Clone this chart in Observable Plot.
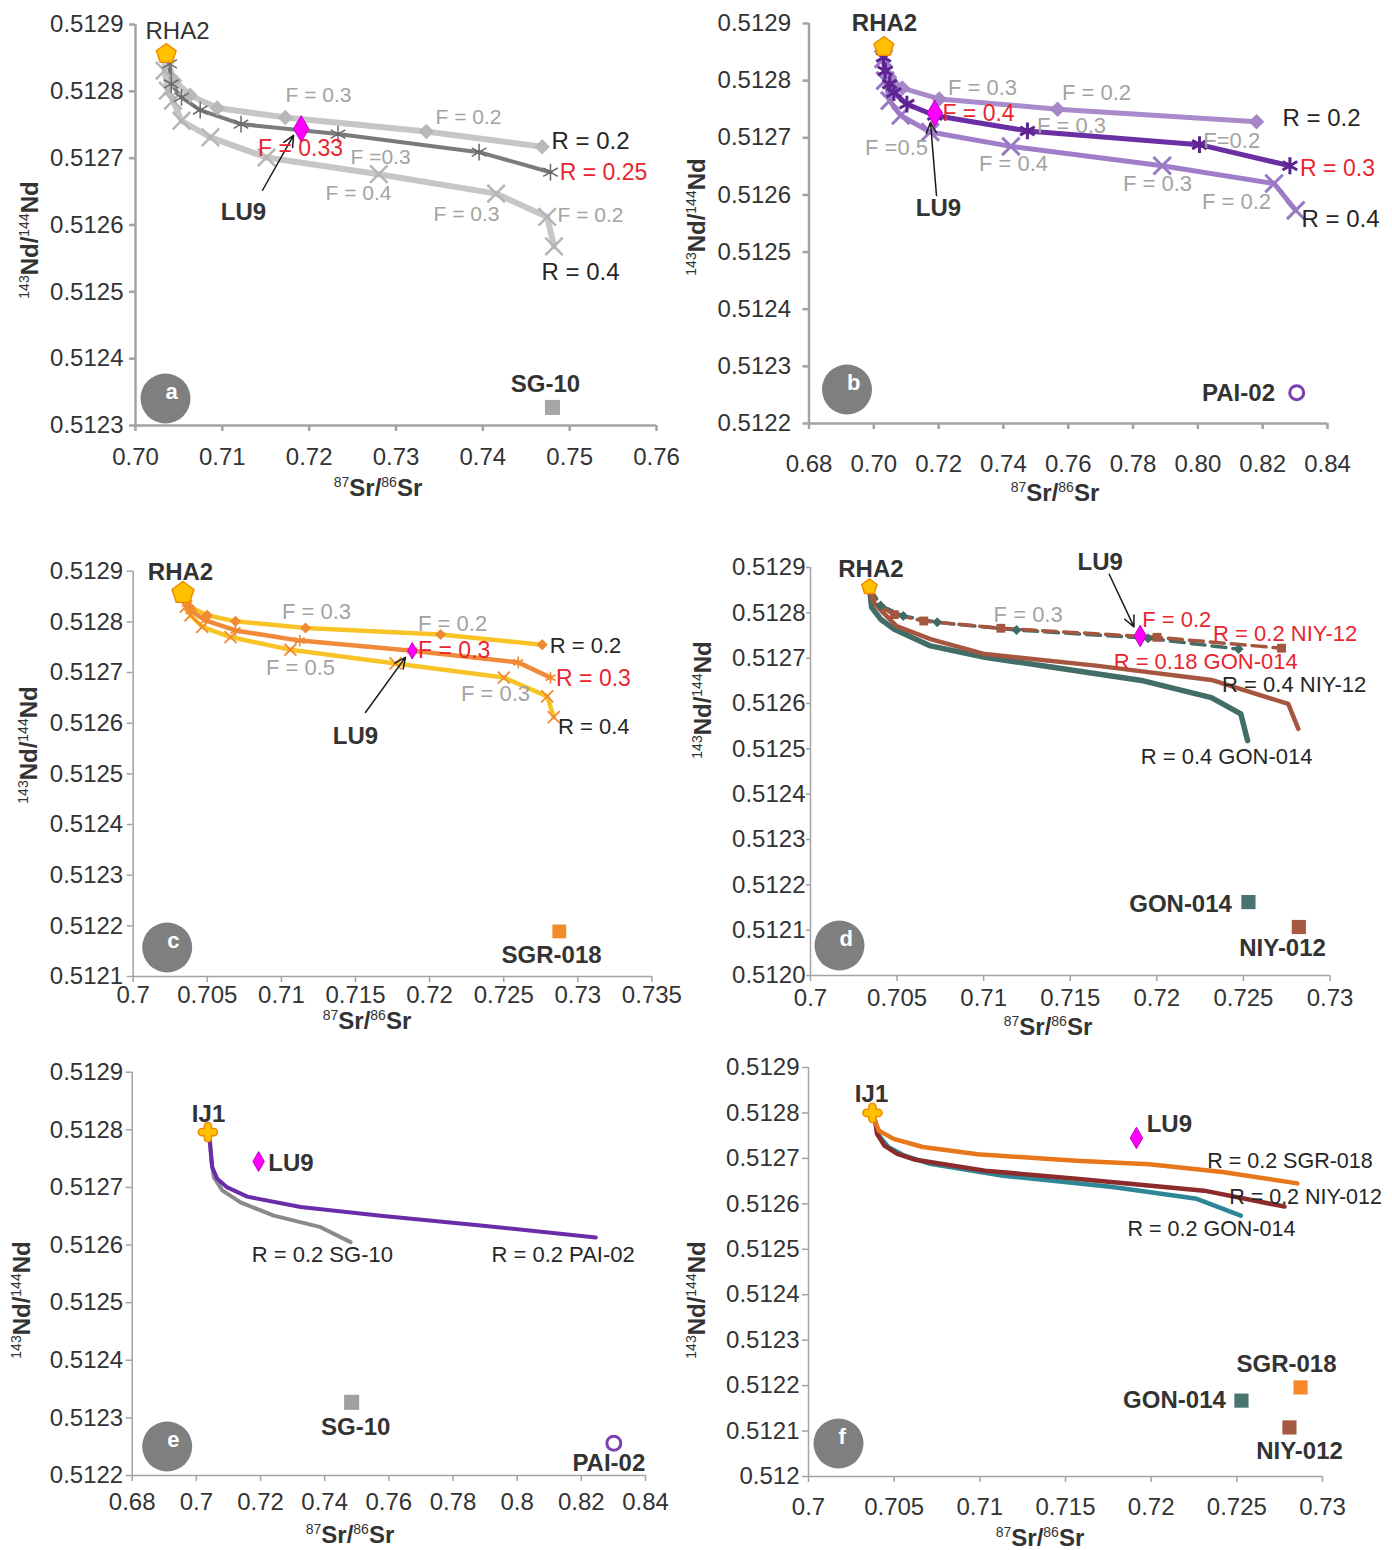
<!DOCTYPE html>
<html><head><meta charset="utf-8">
<script src="https://cdn.jsdelivr.net/npm/d3@7"></script>
<script src="https://cdn.jsdelivr.net/npm/@observablehq/plot@0.6"></script>
<style>
html,body{margin:0;padding:0;background:#fff;overflow:hidden;}
#root{position:relative;width:1392px;height:1550px;font-family:"Liberation Sans",Arial,Helvetica,sans-serif;}
.panel{position:absolute;}
</style></head>
<body><div id="root"></div>
<script>
// ---------------- DATA ----------------
// Panel a
const aRHA2 = [0.70354, 0.512856];
const aR02 = [[0.70354,0.512856],[0.70373,0.512841],[0.70451,0.512816],[0.70628,0.512794],[0.70941,0.512775],[0.71725,0.512761],[0.7335,0.51274],[0.74683,0.512717]];
const aR025 = [[0.70354,0.512856],[0.70393,0.512841],[0.70412,0.512811],[0.7053,0.512791],[0.70745,0.512772],[0.71215,0.512751],[0.72332,0.512736],[0.73957,0.512709],[0.74779,0.512679]];
const aR04 = [[0.70354,0.512856],[0.70334,0.512831],[0.70373,0.512801],[0.70432,0.512786],[0.7053,0.512756],[0.70863,0.512731],[0.71509,0.512701],[0.72802,0.512676],[0.74153,0.512647],[0.74741,0.512612],[0.7482,0.512568]];
const aLU9 = [0.71908, 0.512744];
const aSG10 = [0.74802, 0.512327];
const aArrow = [0.71463, 0.512652, 0.7182, 0.512734];
const aGray = [{t:"F = 0.3",x:0.72108,y:0.512794},{t:"F = 0.2",x:0.73835,y:0.512761},{t:"F =0.3",x:0.72822,y:0.512702},{t:"F = 0.4",x:0.72568,y:0.512647},{t:"F = 0.3",x:0.73812,y:0.512616},{t:"F = 0.2",x:0.7524,y:0.512614}];
const aRed = [{t:"F = 0.33",x:0.719,y:0.512714},{t:"R = 0.25",x:0.7539,y:0.512679}];
const aBlack = [{t:"R = 0.2",x:0.7524,y:0.512725},{t:"R = 0.4",x:0.75125,y:0.512529}];
const aPlain = [{t:"RHA2",x:0.70484,y:0.51289}];
const aBold = [{t:"LU9",x:0.71244,y:0.512619},{t:"SG-10",x:0.74722,y:0.512361}];

// Panel b
const bRHA2 = [0.7031, 0.512859];
const bR02 = [[0.7031,0.512859],[0.7035,0.51283],[0.7049,0.512806],[0.7088,0.512787],[0.7202,0.512768],[0.7567,0.51275],[0.8181,0.512728]];
const bR03 = [[0.7031,0.512859],[0.7030,0.512841],[0.7035,0.512817],[0.7049,0.512794],[0.7062,0.512779],[0.7102,0.512759],[0.7188,0.512739],[0.7474,0.512712],[0.8005,0.512688],[0.8284,0.512651]];
const bR04 = [[0.7031,0.512859],[0.7030,0.512838],[0.7035,0.5128],[0.7049,0.512765],[0.7083,0.512739],[0.7174,0.51271],[0.7423,0.512685],[0.7890,0.512651],[0.8235,0.51262],[0.8302,0.512573]];
const bLU9 = [0.7188, 0.512743];
const bPAI02 = [0.8305, 0.512254];
const bArrow = [0.71934, 0.512599, 0.71749, 0.512727];
const bGray = [{t:"F = 0.3",x:0.73354,y:0.512788},{t:"F = 0.2",x:0.76872,y:0.512779},{t:"F = 0.3",x:0.7610,y:0.512721},{t:"F=0.2",x:0.81044,y:0.512695},{t:"F =0.5",x:0.707,y:0.512683},{t:"F = 0.4",x:0.74311,y:0.512655},{t:"F = 0.3",x:0.78754,y:0.51262},{t:"F = 0.2",x:0.81192,y:0.512587}];
const bRed = [{t:"F = 0.4",x:0.7323,y:0.512742},{t:"R = 0.3",x:0.84309,y:0.512646}];
const bBlack = [{t:"R = 0.2",x:0.83815,y:0.512734},{t:"R = 0.4",x:0.84401,y:0.512557}];
const bBold = [{t:"RHA2",x:0.7033,y:0.5129},{t:"LU9",x:0.71996,y:0.512576},{t:"PAI-02",x:0.81254,y:0.512253}];

// Panel c
const cRHA2 = [0.70336, 0.512857];
const cR02 = [[0.70336,0.512857],[0.7038,0.51283],[0.70499,0.512813],[0.7069,0.512801],[0.71163,0.512788],[0.72074,0.512775],[0.7276,0.512755]];
const cR03 = [[0.70336,0.512857],[0.70364,0.512836],[0.70387,0.512822],[0.70488,0.512803],[0.7069,0.512783],[0.71124,0.512763],[0.71883,0.512743],[0.72598,0.51272],[0.72816,0.51269]];
const cR04 = [[0.70336,0.512857],[0.70355,0.51283],[0.70387,0.512813],[0.70466,0.51279],[0.70657,0.51277],[0.71061,0.512745],[0.7177,0.512718],[0.72501,0.51269],[0.72794,0.512653],[0.72838,0.512612]];
const cLU9 = [0.71883, 0.512743];
const cSGR018 = [0.72875, 0.512189];
const cArrow = [0.71567, 0.512621, 0.71837, 0.51273];
const cGray = [{t:"F = 0.3",x:0.71237,y:0.51282},{t:"F = 0.2",x:0.72155,y:0.512795},{t:"F = 0.5",x:0.71129,y:0.51271},{t:"F = 0.3",x:0.72445,y:0.512657}];
const cRed = [{t:"F = 0.3",x:0.72166,y:0.512743},{t:"R = 0.3",x:0.73106,y:0.512688}];
const cBlack = [{t:"R = 0.2",x:0.73052,y:0.512753},{t:"R = 0.4",x:0.73108,y:0.512593}];
const cBold = [{t:"RHA2",x:0.70319,y:0.512897},{t:"LU9",x:0.715,y:0.512574},{t:"SGR-018",x:0.72823,y:0.512141}];

// Panel d
const dRHA2 = [0.7034, 0.512857];
const dNIYdash = [[0.7034,0.512857],[0.70353,0.512849],[0.70379,0.512819],[0.70484,0.512796],[0.70654,0.512782],[0.71099,0.512766],[0.72001,0.512746],[0.7272,0.512722]];
const dGONdash = [[0.7034,0.512857],[0.70353,0.512849],[0.70405,0.512816],[0.70536,0.512793],[0.70732,0.512779],[0.7119,0.512762],[0.71949,0.512744],[0.72472,0.51272]];
const dNIYsolid = [[0.7034,0.512857],[0.70366,0.512823],[0.70418,0.512801],[0.70497,0.512771],[0.70693,0.512742],[0.71007,0.512709],[0.71661,0.512683],[0.72315,0.512652],[0.72759,0.512599],[0.72817,0.512544]];
const dGONsolid = [[0.7034,0.512857],[0.70353,0.512812],[0.70405,0.512786],[0.70484,0.512764],[0.70693,0.512727],[0.71007,0.512702],[0.71399,0.51268],[0.71922,0.51265],[0.72315,0.512613],[0.72485,0.512577],[0.72524,0.512518]];
const dLU9 = [0.71904, 0.512749];
const dGON014 = [0.72529, 0.512162];
const dNIY012 = [0.7282, 0.512107];
const dArrow = [0.71725, 0.512885, 0.71868, 0.512769];
const dGray = [{t:"F = 0.3",x:0.71257,y:0.512795}];
const dRed = [{t:"F = 0.2",x:0.72115,y:0.512784},{t:"R = 0.2 NIY-12",x:0.72741,y:0.512754},{t:"R = 0.18 GON-014",x:0.72282,y:0.512691}];
const dBlack = [{t:"R = 0.4 NIY-12",x:0.72793,y:0.512642},{t:"R = 0.4 GON-014",x:0.72403,y:0.512481}];
const dBold = [{t:"RHA2",x:0.70349,y:0.512896},{t:"LU9",x:0.71673,y:0.512911},{t:"GON-014",x:0.72137,y:0.512158},{t:"NIY-012",x:0.72726,y:0.512061}];

// Panel e
const eIJ1 = [0.7036, 0.512796];
const eSG10line = [[0.7036,0.512796],[0.7042,0.512781],[0.70464,0.512747],[0.70545,0.512718],[0.70807,0.512695],[0.71378,0.512674],[0.72417,0.512651],[0.73873,0.512631],[0.74808,0.512605]];
const ePAI02line = [[0.7036,0.512796],[0.7042,0.512781],[0.70495,0.512735],[0.70651,0.512715],[0.70963,0.5127],[0.71587,0.512684],[0.7325,0.512666],[0.75745,0.512651],[0.78864,0.512634],[0.82451,0.512613]];
const eLU9 = [0.7194, 0.512745];
const eSG10 = [0.7484, 0.512327];
const ePAI02 = [0.83013, 0.512256];
const eBlack = [{t:"R = 0.2 SG-10",x:0.73926,y:0.512583},{t:"R = 0.2 PAI-02",x:0.81431,y:0.512583}];
const eBold = [{t:"IJ1",x:0.7038,y:0.512827},{t:"LU9",x:0.72947,y:0.512741},{t:"SG-10",x:0.74965,y:0.512283},{t:"PAI-02",x:0.82857,y:0.512222}];

// Panel f
const fIJ1 = [0.70373, 0.5128];
const fSGRline = [[0.70373,0.5128],[0.7039,0.51278],[0.70411,0.512761],[0.70497,0.512743],[0.70667,0.512725],[0.70987,0.512709],[0.71563,0.512695],[0.71989,0.512687],[0.72416,0.51267],[0.72853,0.512645]];
const fNIYline = [[0.70373,0.5128],[0.7039,0.51278],[0.704,0.512754],[0.70443,0.512728],[0.70518,0.51271],[0.70625,0.512697],[0.7103,0.512673],[0.71563,0.512655],[0.72309,0.512629],[0.72778,0.512594]];
const fGONline = [[0.70373,0.5128],[0.7039,0.51278],[0.70411,0.51275],[0.70465,0.512725],[0.7056,0.512706],[0.7071,0.512688],[0.71136,0.512662],[0.71776,0.512637],[0.72266,0.512611],[0.72523,0.512574]];
const fLU9 = [0.71914, 0.512745];
const fSGR018 = [0.72872, 0.512196];
const fGON014 = [0.72527, 0.512167];
const fNIY012 = [0.72807, 0.512108];
const fBlack = [{t:"R = 0.2 SGR-018",x:0.7281,y:0.512693},{t:"R = 0.2 NIY-012",x:0.72901,y:0.512615},{t:"R = 0.2 GON-014",x:0.72352,y:0.512545}];
const fBold = [{t:"IJ1",x:0.70368,y:0.512841},{t:"LU9",x:0.72106,y:0.512776},{t:"SGR-018",x:0.7279,y:0.512246},{t:"GON-014",x:0.72136,y:0.512167},{t:"NIY-012",x:0.72866,y:0.512055}];

// Tick values
const xTicksA = [0.70,0.71,0.72,0.73,0.74,0.75,0.76];
const yTicksA = [0.5123,0.5124,0.5125,0.5126,0.5127,0.5128,0.5129];
const xTicksB = [0.68,0.70,0.72,0.74,0.76,0.78,0.80,0.82,0.84];
const yTicksB = [0.5122,0.5123,0.5124,0.5125,0.5126,0.5127,0.5128,0.5129];
const xTicksC = [0.7,0.705,0.71,0.715,0.72,0.725,0.73,0.735];
const yTicksC = [0.5121,0.5122,0.5123,0.5124,0.5125,0.5126,0.5127,0.5128,0.5129];
const xTicksD = [0.7,0.705,0.71,0.715,0.72,0.725,0.73];
const yTicksD = [0.5120,0.5121,0.5122,0.5123,0.5124,0.5125,0.5126,0.5127,0.5128,0.5129];
const xTicksE = [0.68,0.70,0.72,0.74,0.76,0.78,0.80,0.82,0.84];
const yTicksE = [0.5122,0.5123,0.5124,0.5125,0.5126,0.5127,0.5128,0.5129];
const xTicksF = [0.7,0.705,0.71,0.715,0.72,0.725,0.73];
const yTicksF = [0.5120,0.5121,0.5122,0.5123,0.5124,0.5125,0.5126,0.5127,0.5128,0.5129];

// ---------------- DRAWING ----------------
const FONT = '"Liberation Sans", Arial, Helvetica, sans-serif';
const AX = "#a3a3a3", TXT = "#333333";
const RED = "#e8262f", GRAYT = "#a3a3a3", BLK = "#262626", BOLDC = "#333333";
const f2 = d3.format(".2f"), f4 = d3.format(".4f"), ftrim = d => String(+d.toFixed(4));

const pentagon = {draw(ctx, size) {
  const R = Math.sqrt(size / Math.PI) * 1.15;
  for (let i = 0; i < 5; i++) {
    const a = -Math.PI / 2 + i * 2 * Math.PI / 5;
    const px = R * Math.cos(a), py = R * Math.sin(a);
    if (i) ctx.lineTo(px, py); else ctx.moveTo(px, py);
  }
  ctx.closePath();
}};
const flower = {draw(ctx, size) {
  const s = Math.sqrt(size / Math.PI), h = s * 0.45, L = s * 0.75, P = Math.PI;
  ctx.moveTo(h, -h); ctx.lineTo(L, -h); ctx.arc(L, 0, h, -P/2, P/2);
  ctx.lineTo(h, h); ctx.lineTo(h, L); ctx.arc(0, L, h, 0, P);
  ctx.lineTo(-h, h); ctx.lineTo(-L, h); ctx.arc(-L, 0, h, P/2, 3*P/2);
  ctx.lineTo(-h, -h); ctx.lineTo(-h, -L); ctx.arc(0, -L, h, P, 2*P);
  ctx.closePath();
}};

const X = d => d[0], Y = d => d[1];
const line = (arr, o) => Plot.line(arr, {x: X, y: Y, ...o});
const dots = (arr, o) => Plot.dot(arr, {x: X, y: Y, ...o});
const lab = (arr, fill, size, weight = "normal") => Plot.text(arr, {x: "x", y: "y", text: "t", fill, fontSize: size, fontWeight: weight, fontFamily: FONT});
const arrow = (a) => Plot.arrow([a], {x1: d => d[0], y1: d => d[1], x2: d => d[2], y2: d => d[3], stroke: "#1a1a1a", strokeWidth: 1.5, headLength: 12, headAngle: 50});
const lu9 = (p, r) => dots([p], {symbol: "diamond", r, fill: "#ff00ff", stroke: "#c000c0", strokeWidth: 1});
const rha2 = (p, r) => dots([p], {symbol: pentagon, r, fill: "#ffc000", stroke: "#f08c00", strokeWidth: 1.5});
const ij1 = (p, r) => dots([p], {symbol: flower, r, fill: "#ffc000", stroke: "#f08c00", strokeWidth: 1.5});
const sq = (p, r, fill) => dots([p], {symbol: "square", r, fill});

const SVGNS = "http://www.w3.org/2000/svg";
function title(svg, cx, cy, rotate, parts) {
  const t = document.createElementNS(SVGNS, "text");
  t.setAttribute("text-anchor", "middle");
  t.setAttribute("font-family", FONT);
  t.setAttribute("font-size", "24");
  t.setAttribute("font-weight", "bold");
  t.setAttribute("fill", TXT);
  t.setAttribute("x", 0); t.setAttribute("y", 8);
  t.setAttribute("transform", `translate(${cx},${cy})` + (rotate ? " rotate(-90)" : ""));
  let up = false;
  for (const [s, sup] of parts) {
    const ts = document.createElementNS(SVGNS, "tspan");
    ts.textContent = s;
    if (sup) { ts.setAttribute("font-size", "14"); ts.setAttribute("font-weight", "normal"); if (!up) ts.setAttribute("dy", "-9"); up = true; }
    else if (up) { ts.setAttribute("dy", "9"); up = false; }
    t.appendChild(ts);
  }
  svg.appendChild(t);
}
const SR = [["87", true], ["Sr/", false], ["86", true], ["Sr", false]];
const ND = [["143", true], ["Nd/", false], ["144", true], ["Nd", false]];

function panel(c) {
  const svg = Plot.plot({
    width: c.w, height: c.h,
    marginLeft: c.ml, marginRight: c.mr, marginTop: c.mt, marginBottom: c.mb,
    style: {fontFamily: FONT, fontSize: "24px", color: TXT, background: "transparent", overflow: "visible"},
    x: {domain: c.xd, nice: false},
    y: {domain: c.yd, nice: false},
    marks: [
      Plot.ruleY([c.yd[0]], {stroke: AX, strokeWidth: c.aw}),
      Plot.ruleX([c.xd[0]], {stroke: AX, strokeWidth: c.aw}),
      Plot.axisX(c.xt, {tickFormat: c.xf, tickSize: 6, tickPadding: c.xp, stroke: AX, strokeWidth: c.aw, fill: TXT, fontSize: 24, label: null}),
      Plot.axisY(c.yt, {tickFormat: c.yf, tickSize: c.yts ?? 6, tickPadding: c.yp, stroke: AX, strokeWidth: c.aw, fill: TXT, fontSize: 24, label: null}),
      Plot.dot([c.letter], {frameAnchor: "bottom-left", dx: c.ldx, dy: c.ldy, r: 25, fill: "#7f7f7f"}),
      Plot.text([c.letter], {frameAnchor: "bottom-left", dx: c.ldx, dy: c.ldy, text: d => d, fill: "white", fontWeight: "bold", fontSize: 22}),
      ...c.marks
    ]
  });
  title(svg, c.xtp[0], c.xtp[1], false, SR);
  title(svg, c.ytp[0], c.ytp[1], true, ND);
  const div = document.createElement("div");
  div.className = "panel";
  div.style.left = c.left + "px"; div.style.top = c.top + "px";
  div.style.width = c.w + "px"; div.style.height = c.h + "px";
  div.appendChild(svg);
  document.getElementById("root").appendChild(div);
}

// Panel a
panel({letter: "a", left: 0, top: 0, w: 690, h: 510, ml: 135, mr: 34, mt: 24, mb: 85,
  xd: [0.70, 0.76], yd: [0.5123, 0.5129], xt: xTicksA, yt: yTicksA, xf: f2, yf: f4, xp: 16, yp: 6, aw: 2.5,
  ldx: 30, ldy: -27, xtp: [378, 488], ytp: [30, 240],
  marks: [
    line(aR04, {stroke: "#c6c6c6", strokeWidth: 6}),
    line(aR02, {stroke: "#c6c6c6", strokeWidth: 6}),
    line(aR025, {stroke: "#7b7b7b", strokeWidth: 4}),
    dots(aR04.slice(1), {symbol: "times", r: 8, stroke: "#b5b5b5", strokeWidth: 2.5, fill: "none"}),
    dots(aR02.slice(2), {symbol: "diamond2", r: 7, fill: "#b8b8b8"}),
    dots(aR025.slice(1), {symbol: "asterisk", r: 8, stroke: "#6a6a6a", strokeWidth: 1.5, fill: "none"}),
    rha2(aRHA2, 9),
    lu9(aLU9, 8),
    sq(aSG10, 8.5, "#a6a6a6"),
    arrow(aArrow),
    lab(aGray, GRAYT, 21), lab(aRed, RED, 23), lab(aBlack, BLK, 24), lab(aPlain, BOLDC, 24), lab(aBold, BOLDC, 24, "bold")
  ]});

// Panel b
panel({letter: "b", left: 690, top: 0, w: 702, h: 510, ml: 118.5, mr: 65, mt: 23, mb: 87,
  xd: [0.68, 0.84], yd: [0.5122, 0.5129], xt: xTicksB, yt: yTicksB, xf: f2, yf: f4, xp: 25, yp: 12, aw: 2.5,
  ldx: 38, ldy: -34, xtp: [365, 493], ytp: [7, 217],
  marks: [
    line(bR04, {stroke: "#9f7dc9", strokeWidth: 5}),
    line(bR02, {stroke: "#a98bcc", strokeWidth: 5}),
    line(bR03, {stroke: "#6a2fa2", strokeWidth: 5}),
    dots(bR04.slice(1), {symbol: "times", r: 8, stroke: "#9a78c4", strokeWidth: 3, fill: "none"}),
    dots(bR02.slice(2), {symbol: "diamond2", r: 7, fill: "#a587c8"}),
    dots(bR03.slice(1), {symbol: "asterisk", r: 8, stroke: "#5c2391", strokeWidth: 3, fill: "none"}),
    rha2(bRHA2, 9),
    lu9(bLU9, 8),
    dots([bPAI02], {symbol: "circle", r: 7, fill: "white", stroke: "#7a3fb0", strokeWidth: 3}),
    arrow(bArrow),
    lab(bGray, GRAYT, 22), lab(bRed, RED, 23), lab(bBlack, BLK, 24), lab(bBold, BOLDC, 24, "bold")
  ]});

// Panel c
panel({letter: "c", left: 0, top: 540, w: 690, h: 500, ml: 132.7, mr: 38.6, mt: 30.7, mb: 64,
  xd: [0.7, 0.735], yd: [0.5121, 0.5129], xt: xTicksC, yt: yTicksC, xf: ftrim, yf: f4, xp: 3, yp: 4, aw: 1.5,
  ldx: 34, ldy: -29, xtp: [367, 481], ytp: [29, 205],
  marks: [
    line(cR04, {stroke: "#f8c326", strokeWidth: 4.5}),
    line(cR02, {stroke: "#f8c326", strokeWidth: 4.5}),
    line(cR03, {stroke: "#f0893a", strokeWidth: 4.5}),
    dots(cR04.slice(1), {symbol: "times", r: 5.5, stroke: "#f08a30", strokeWidth: 1.8, fill: "none"}),
    dots(cR02.slice(1), {symbol: "diamond2", r: 5, fill: "#f08a30"}),
    dots(cR03.slice(1), {symbol: "asterisk", r: 5.5, stroke: "#f08a30", strokeWidth: 1.6, fill: "none"}),
    rha2(cRHA2, 10),
    lu9(cLU9, 5),
    sq(cSGR018, 7.8, "#f28c28"),
    arrow(cArrow),
    lab(cGray, GRAYT, 22), lab(cRed, RED, 23), lab(cBlack, BLK, 22), lab(cBold, BOLDC, 24, "bold")
  ]});

// Panel d
panel({letter: "d", left: 690, top: 540, w: 702, h: 500, ml: 120, mr: 62.5, mt: 27, mb: 65,
  xd: [0.7, 0.73], yd: [0.5120, 0.5129], xt: xTicksD, yt: yTicksD, xf: ftrim, yf: f4, xp: 7, yp: 1, yts: 4, aw: 1.5,
  ldx: 29, ldy: -30, xtp: [358, 487], ytp: [13, 160],
  marks: [
    line(dGONsolid, {stroke: "#436d67", strokeWidth: 5.5}),
    line(dNIYsolid, {stroke: "#a6563f", strokeWidth: 4.5}),
    line(dGONdash, {stroke: "#436d67", strokeWidth: 3.5, strokeDasharray: "14,7"}),
    line(dNIYdash, {stroke: "#a6563f", strokeWidth: 3.5, strokeDasharray: "14,7"}),
    dots(dGONdash.slice(2), {symbol: "diamond2", r: 4.5, fill: "#3f6b66"}),
    dots(dNIYdash.slice(3), {symbol: "square", r: 5, fill: "#a6563f"}),
    rha2(dRHA2, 7),
    lu9(dLU9, 6.5),
    sq(dGON014, 8, "#4a7470"),
    sq(dNIY012, 8, "#a65a42"),
    arrow(dArrow),
    lab(dGray, GRAYT, 22), lab(dRed, RED, 22), lab(dBlack, BLK, 22), lab(dBold, BOLDC, 24, "bold")
  ]});

// Panel e
panel({letter: "e", left: 0, top: 1050, w: 690, h: 500, ml: 131.7, mr: 45, mt: 21.7, mb: 75,
  xd: [0.68, 0.84], yd: [0.5122, 0.5129], xt: xTicksE, yt: yTicksE, xf: ftrim, yf: f4, xp: 11, yp: 3, aw: 1.5,
  ldx: 35, ldy: -29, xtp: [350, 485], ytp: [22, 250],
  marks: [
    line(eSG10line, {stroke: "#8a8a8a", strokeWidth: 4}),
    line(ePAI02line, {stroke: "#6a2ca8", strokeWidth: 4}),
    ij1(eIJ1, 8),
    lu9(eLU9, 6),
    sq(eSG10, 8.5, "#a0a0a0"),
    dots([ePAI02], {symbol: "circle", r: 7, fill: "white", stroke: "#7a3fb0", strokeWidth: 3}),
    lab(eBlack, BLK, 22), lab(eBold, BOLDC, 24, "bold")
  ]});

// Panel f
panel({letter: "f", left: 690, top: 1050, w: 702, h: 500, ml: 118, mr: 70, mt: 17, mb: 74,
  xd: [0.7, 0.73], yd: [0.512, 0.5129], xt: xTicksF, yt: yTicksF, xf: ftrim, yf: ftrim, xp: 15, yp: 3, aw: 1.5,
  ldx: 30, ldy: -33, xtp: [350, 488], ytp: [7, 250],
  marks: [
    line(fGONline, {stroke: "#2e8797", strokeWidth: 4.5}),
    line(fNIYline, {stroke: "#8b2b2b", strokeWidth: 4.5}),
    line(fSGRline, {stroke: "#e8761a", strokeWidth: 4.5}),
    ij1(fIJ1, 8),
    lu9(fLU9, 6.5),
    sq(fSGR018, 8, "#f5892a"),
    sq(fGON014, 8, "#4a7470"),
    sq(fNIY012, 8, "#a65a42"),
    lab(fBlack, BLK, 21.5), lab(fBold, BOLDC, 24, "bold")
  ]});
</script>
</body></html>
